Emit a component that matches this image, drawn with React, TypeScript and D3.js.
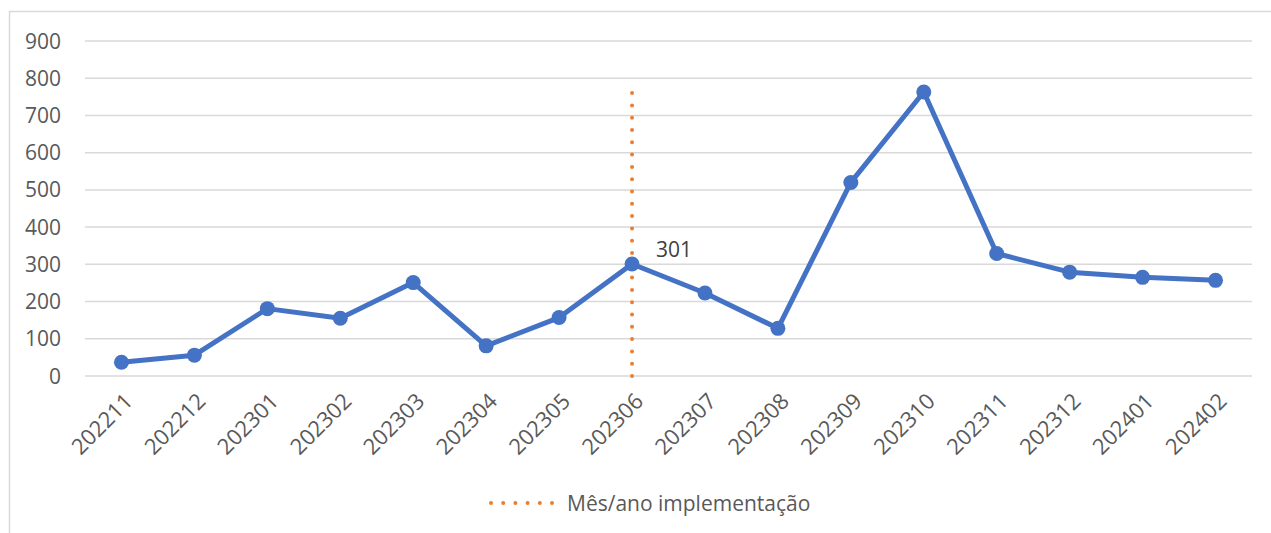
import React from "react";
import * as d3 from "d3";

const categories = ["202211","202212","202301","202302","202303","202304","202305","202306","202307","202308","202309","202310","202311","202312","202401","202402"];
const values = [37, 56, 181, 155, 251, 81, 157, 301, 223, 128, 520, 763, 329, 279, 265, 257];
const yTicks = [0, 100, 200, 300, 400, 500, 600, 700, 800, 900];
const implementationMonth = "202306";
const implementationTop = 763;
const labelledMonth = "202306";
const legendLabel = "Mês/ano implementação";

const W = 1271, H = 533;
const FONT = "'Open Sans', 'Noto Sans', sans-serif";
const FS = 21;

export default function App() {
  const x = d3.scaleBand<string>().domain(categories).range([85, 1252]);
  const y = d3.scaleLinear().domain([0, 900]).range([376, 41]);
  const cx = (c: string) => (x(c) as number) + x.bandwidth() / 2;
  const line = d3.line<number>().x((_, i) => cx(categories[i])).y((v) => y(v));
  const li = categories.indexOf(labelledMonth);

  return (
    <svg width={W} height={H} style={{ position: "absolute", left: 0, top: 0, background: "#fff" }}>
      <rect x={9.5} y={11.5} width={W} height={H} fill="#fff" stroke="#d9d9d9" strokeWidth={1.5} />
      {yTicks.map((t) => (
        <g key={t}>
          <line x1={85} x2={1252} y1={y(t)} y2={y(t)} stroke="#d9d9d9" strokeWidth={1.5} />
          <text x={61} y={y(t)} dy="0.36em" textAnchor="end" fontFamily={FONT} fontSize={FS} fill="#595959">{t}</text>
        </g>
      ))}
      {categories.map((c) => (
        <text key={c} transform={`translate(${cx(c) + 7},${397}) rotate(-45)`} textAnchor="end" dy="0.36em" fontFamily={FONT} fontSize={22} fill="#595959">{c}</text>
      ))}
      <line x1={cx(implementationMonth)} x2={cx(implementationMonth)} y1={y(0)} y2={y(implementationTop)} stroke="#ED7D31" strokeWidth={4} strokeLinecap="round" strokeDasharray="0 12.3" />
      <path d={line(values) || ""} fill="none" stroke="#4472C4" strokeWidth={5} strokeLinejoin="round" />
      {values.map((v, i) => (
        <circle key={i} cx={cx(categories[i])} cy={y(v)} r={7.5} fill="#4472C4" />
      ))}
      <text x={cx(labelledMonth) + 24} y={y(values[li]) - 7} fontFamily={FONT} fontSize={FS} fill="#404040">{values[li]}</text>
      <line x1={491} x2={553} y1={503} y2={503} stroke="#ED7D31" strokeWidth={4} strokeLinecap="round" strokeDasharray="0 12.2" />
      <text x={567} y={503} dy="0.36em" fontFamily={FONT} fontSize={FS} fill="#595959">{legendLabel}</text>
    </svg>
  );
}
